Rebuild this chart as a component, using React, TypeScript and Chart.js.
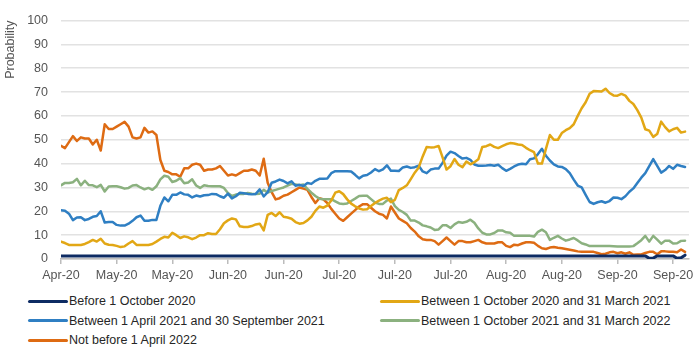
import React, { useEffect, useRef } from 'react';
import { Chart, registerables } from 'chart.js';

Chart.register(...registerables);

const tickLabels = ['Apr-20', 'May-20', 'May-20', 'Jun-20', 'Jun-20', 'Jul-20', 'Jul-20', 'Jul-20', 'Aug-20', 'Aug-20', 'Sep-20', 'Sep-20'];
const DAYS_PER_TICK = 14;

const seriesNames = [
  'Before 1 October 2020',
  'Between 1 October 2020 and 31 March 2021',
  'Between 1 April 2021 and 30 September 2021',
  'Between 1 October 2021 and 31 March 2022',
  'Not before 1 April 2022',
];

const before2020 = [
  1.3, 1.3, 1.3, 1.3, 1.3, 1.3, 1.3, 1.3, 1.3, 1.3,
  1.3, 1.3, 1.3, 1.3, 1.3, 1.3, 1.3, 1.3, 1.3, 1.3,
  1.3, 1.3, 1.3, 1.3, 1.3, 1.3, 1.3, 1.3, 1.3, 1.3,
  1.3, 1.3, 1.3, 1.3, 1.3, 1.3, 1.3, 1.3, 1.3, 1.3,
  1.3, 1.3, 1.3, 1.3, 1.3, 1.3, 1.3, 1.3, 1.3, 1.3,
  1.3, 1.3, 1.3, 1.3, 1.3, 1.3, 1.3, 1.3, 1.3, 1.3,
  1.3, 1.3, 1.3, 1.3, 1.3, 1.3, 1.3, 1.3, 1.3, 1.3,
  1.3, 1.3, 1.3, 1.3, 1.3, 1.3, 1.3, 1.3, 1.3, 1.3,
  1.3, 1.3, 1.3, 1.3, 1.3, 1.3, 1.3, 1.3, 1.3, 1.3,
  1.3, 1.3, 1.3, 1.3, 1.3, 1.3, 1.3, 1.3, 1.3, 1.3,
  1.3, 1.3, 1.3, 1.3, 1.3, 1.3, 1.3, 1.3, 1.3, 1.3,
  1.3, 1.3, 1.3, 1.3, 1.3, 1.3, 1.3, 1.3, 1.3, 1.3,
  1.3, 1.3, 1.3, 1.3, 1.3, 1.3, 1.3, 1.3, 1.3, 1.3,
  1.3, 1.3, 1.3, 1.3, 1.3, 1.3, 1.3, 1.3, 1.3, 1.3,
  1.3, 1.3, 1.3, 1.3, 1.3, 1.3, 1.3, 1.3, 0.3, 0.4,
  1.3, 1.3, 1.3, 1.3, 1.3, 0.3, 0.5, 1.6,
];

const oct20ToMar21 = [
  7.3, 6.7, 5.9, 5.9, 5.9, 5.9, 6.3, 7.1, 8, 7.3,
  8.5, 6.5, 6, 5.9, 5.5, 5, 5.3, 6.5, 7.5, 5.9,
  5.9, 5.9, 5.9, 6.3, 7.3, 8.4, 9.3, 9, 11, 10,
  8.8, 9.5, 9.1, 8.3, 9, 10, 10, 10.8, 10.5, 10.5,
  12.5, 15, 16.2, 17, 16.6, 13.7, 13.4, 13.4, 13.8, 14.5,
  14.8, 12, 18.5, 19.3, 18, 19.6, 17.7, 17.4, 16.9, 15.5,
  14.8, 15.1, 16.2, 17.7, 20.2, 22, 21.5, 22.4, 24.5, 27.8,
  28.4, 27.2, 25, 23.2, 22.1, 21.2, 20.7, 20.9, 22.2, 23.5,
  24.5, 25.3, 25.7, 23.8, 24.8, 28.9, 29.8, 30.9, 33.5, 36.2,
  38.4, 43, 47, 46.8, 46.9, 47.4, 42.6, 37.5, 38.9, 41.9,
  39.5, 38.5, 40.9, 39.7, 40.6, 41.8, 47, 47.3, 48, 47,
  46.5, 47.3, 48.1, 48.6, 48.4, 48, 47.8, 46.6, 45.6, 44.8,
  40, 40, 46.2, 52, 50, 50, 52.8, 54, 54.9, 56.5,
  60, 63.2, 65.7, 69.3, 70.4, 70.3, 70.2, 71.4, 69.6, 68.6,
  68.5, 69.2, 68.5, 66.3, 65, 62.4, 59.3, 54.4, 53.8, 51.2,
  52.4, 57.6, 55.3, 53.5, 54.4, 55, 53, 53.4,
];

const apr21ToSep21 = [
  20.4, 20.2, 19, 16.3, 17.4, 17.5, 16.3, 16.8, 17.7, 18,
  20, 15.3, 15.5, 15.5, 14.3, 14, 14, 14.8, 16, 17.5,
  18.2, 16, 16, 16.4, 16.4, 22.3, 25.8, 24.2, 26.9, 26.9,
  27.9, 27.1, 26.9, 25.8, 26.6, 26.2, 26.7, 26.8, 27.3, 27.2,
  26.3, 25.7, 27.4, 25.4, 26.3, 27.8, 27.6, 27.3, 27.1, 27.3,
  29.2, 26.2, 28, 32, 32.5, 33.3, 32.7, 31.7, 32.6, 30.7,
  31.1, 30.6, 31.9, 31.5, 32.8, 33.6, 33.6, 33.8, 36, 36.8,
  36.8, 36.8, 36.8, 36.7, 35.3, 33.8, 34.9, 35.2, 36.3, 37.7,
  36.8, 37.6, 39.3, 37, 37, 36.9, 38.4, 38.8, 38.2, 38.5,
  39.1, 36.7, 36, 37.5, 37.9, 37.9, 40.3, 43.3, 45, 44.4,
  43.2, 42.1, 42.4, 41.6, 39.6, 39.1, 39.1, 39.2, 39.4, 39.1,
  39.5, 38.1, 37, 37.8, 38.8, 39.6, 39.9, 39.7, 41.8, 42.2,
  44, 46.2, 43.3, 41.3, 39.7, 38.8, 38.6, 37.7, 36, 33.3,
  30.8, 30, 26.9, 23.9, 23.1, 23.8, 24.2, 23.6, 24.3, 25.8,
  25.7, 25.1, 26.3, 28.2, 29.6, 31.9, 34.1, 36, 38.9, 41.9,
  39, 36.2, 37.3, 39, 37.8, 39.5, 39, 38.6,
];

const oct21ToMar22 = [
  30.9, 31.9, 31.9, 32.2, 33.6, 30.9, 32.8, 31, 30.9, 30.1,
  31.1, 28.3, 30.4, 30.5, 30.5, 30.1, 29.5, 29.8, 30.8, 31,
  30, 29.2, 29.8, 29, 30.5, 33.4, 34.9, 34.5, 32.3, 32.8,
  33.9, 31.8, 32.1, 33.4, 30.8, 29.8, 30.9, 30.6, 30.5, 30.5,
  30.5, 29.8, 27.7, 26.4, 27, 27.3, 27.3, 27.7, 27.4, 27.3,
  27.4, 29, 27.9, 28.5, 29, 29.5, 30, 30.8, 31.5, 31.2,
  30.9, 31.2, 29.4, 27.8, 26.4, 25.3, 25.1, 25.1, 25.1, 24.2,
  23.3, 23.1, 23.3, 24.3, 25.3, 26.4, 26.5, 26.5, 25.1, 23.7,
  23.1, 23.1, 24.5, 25.3, 22.2, 20.6, 19.7, 18.5, 16.1, 16.1,
  15.3, 14.1, 13.7, 13.2, 12.2, 12.4, 14.1, 14.1, 13, 14.5,
  15.5, 15.2, 15.6, 16.5, 15.2, 12.8, 11, 10.3, 10.3, 10.9,
  12, 12, 11.2, 11, 9.7, 9.7, 9.7, 9.7, 9.7, 9.4,
  11.4, 12.3, 11.2, 8, 8.9, 9.7, 8.6, 7.7, 8.2, 8.8,
  7.8, 6.6, 6.1, 5.4, 5.4, 5.4, 5.4, 5.4, 5.4, 5.3,
  5.2, 5.2, 5.2, 5.2, 5.4, 6.6, 7.9, 9.7, 7.3, 9.7,
  8.1, 6.4, 7.7, 7.7, 6.5, 6.6, 7.6, 7.7,
];

const notBeforeApr22 = [
  47.5, 46.5, 49, 51.5, 49.5, 51, 50.5, 50.5, 48, 50,
  45.5, 56.5, 54.5, 54.5, 55.5, 56.5, 57.5, 55.5, 51, 50.5,
  51, 55, 53, 53.5, 52, 41.5, 37, 36.5, 35.5, 35.5,
  34.5, 38, 38, 39.5, 40, 39.5, 37, 37.5, 37.5, 38,
  39, 37, 35, 35.5, 35, 36, 37, 37, 37.5, 37,
  35, 42, 32, 28, 25, 25.5, 26.5, 27, 28, 29,
  30, 29.5, 29, 26, 23.5, 25.5, 25, 23.5, 21, 19,
  17, 16, 17.5, 19, 20.5, 22, 23, 23, 21.5, 20,
  19, 18.5, 17, 22, 19.5, 17, 16, 15, 13, 11.5,
  9.5, 8.3, 8, 8, 7.5, 6, 7.5, 9, 7.5, 6,
  7.5, 7.5, 7, 7, 7.5, 8, 7, 6.5, 6.5, 6.5,
  7, 7, 5.5, 5, 6, 5.8, 6.5, 7, 7, 6.8,
  5.5, 4.5, 4.2, 4.8, 5, 4.7, 4.5, 4.2, 3.9, 3.6,
  3.2, 3, 3, 3, 3, 2.5, 2, 2.2, 2.8, 3,
  2.4, 2.8, 2.2, 2.8, 1.8, 1.9, 1.9, 2.5, 3, 3,
  2, 3.2, 3.2, 3, 3, 2.8, 4, 3,
];

const seriesValues = [before2020, oct20ToMar21, apr21ToSep21, oct21ToMar22, notBeforeApr22];
const seriesColors = ['#0d2b63', '#e2a715', '#2f7fc3', '#8bb17f', '#de6b13'];
const seriesWidths = [3, 2.5, 2.5, 2.5, 2.5];

const FONT = '"Liberation Sans", Arial, Helvetica, sans-serif';
const TEXT = '#555555';

// legend layout: [seriesIndex, column, row]
const legendItems: [number, number, number][] = [
  [0, 0, 0], [1, 1, 0], [2, 0, 1], [3, 1, 1], [4, 0, 2],
];
const legendColX = [28, 380];
const legendRowY = [301, 320.5, 340];

export default function App() {
  const ref = useRef<HTMLCanvasElement>(null);

  useEffect(() => {
    const canvas = ref.current;
    if (!canvas) return;
    const chart = new Chart(canvas, {
      type: 'line',
      data: {
        datasets: seriesValues.map((vals, k) => ({
          label: seriesNames[k],
          data: vals.map((y, x) => ({ x, y })),
          borderColor: seriesColors[k],
          backgroundColor: seriesColors[k],
          borderWidth: seriesWidths[k],
          pointRadius: 0,
          tension: 0,
          fill: false,
          borderJoinStyle: 'round',
          borderCapStyle: 'round',
        })),
      },
      options: {
        responsive: false,
        animation: false,
        events: [],
        layout: { padding: { top: 11, right: 11, left: 0, bottom: 0 } },
        plugins: { legend: { display: false }, tooltip: { enabled: false } },
        scales: {
          x: {
            type: 'linear',
            min: 0,
            max: 158,
            afterBuildTicks: (axis: any) => {
              axis.ticks = tickLabels.map((_, k) => ({ value: k * DAYS_PER_TICK }));
            },
            afterFit: (s: any) => { s.height = 31; },
            grid: { display: true, drawOnChartArea: false, drawTicks: true, tickLength: 5, color: '#bcbcbc', lineWidth: 1.5 },
            border: { display: true, color: '#bcbcbc', width: 1.5 },
            ticks: {
              autoSkip: false,
              maxRotation: 0,
              padding: 4,
              color: TEXT,
              font: { family: FONT, size: 12.5 },
              callback: (v: any) => tickLabels[Math.round(Number(v) / DAYS_PER_TICK)],
            },
          },
          y: {
            min: 0,
            max: 100,
            afterFit: (s: any) => { s.width = 61; },
            ticks: { stepSize: 10, padding: 13, color: TEXT, font: { family: FONT, size: 12.5 } },
            grid: { color: '#e2e2e2', lineWidth: 1.5, drawTicks: false },
            border: { display: false },
            title: {
              display: true,
              text: 'Probability',
              align: 'end',
              color: TEXT,
              font: { family: FONT, size: 12.5 },
              padding: { top: 3, bottom: 0 },
            },
          },
        },
      },
    } as any);
    return () => chart.destroy();
  }, []);

  return (
    <div style={{ position: 'absolute', left: 0, top: 0, width: 700, height: 355, background: '#fff', overflow: 'hidden' }}>
      <canvas ref={ref} width={700} height={290} style={{ display: 'block', width: 700, height: 290 }} />
      {legendItems.map(([si, col, row]) => (
        <div
          key={si}
          style={{
            position: 'absolute',
            left: legendColX[col],
            top: legendRowY[row] - 8,
            height: 16,
            display: 'flex',
            alignItems: 'center',
            whiteSpace: 'nowrap',
          }}
        >
          <span style={{ display: 'inline-block', width: 40, height: 3, borderRadius: 2, background: seriesColors[si] }} />
          <span style={{ marginLeft: 1, fontFamily: FONT, fontSize: 12.5, color: '#262626', lineHeight: '16px' }}>{seriesNames[si]}</span>
        </div>
      ))}
    </div>
  );
}
